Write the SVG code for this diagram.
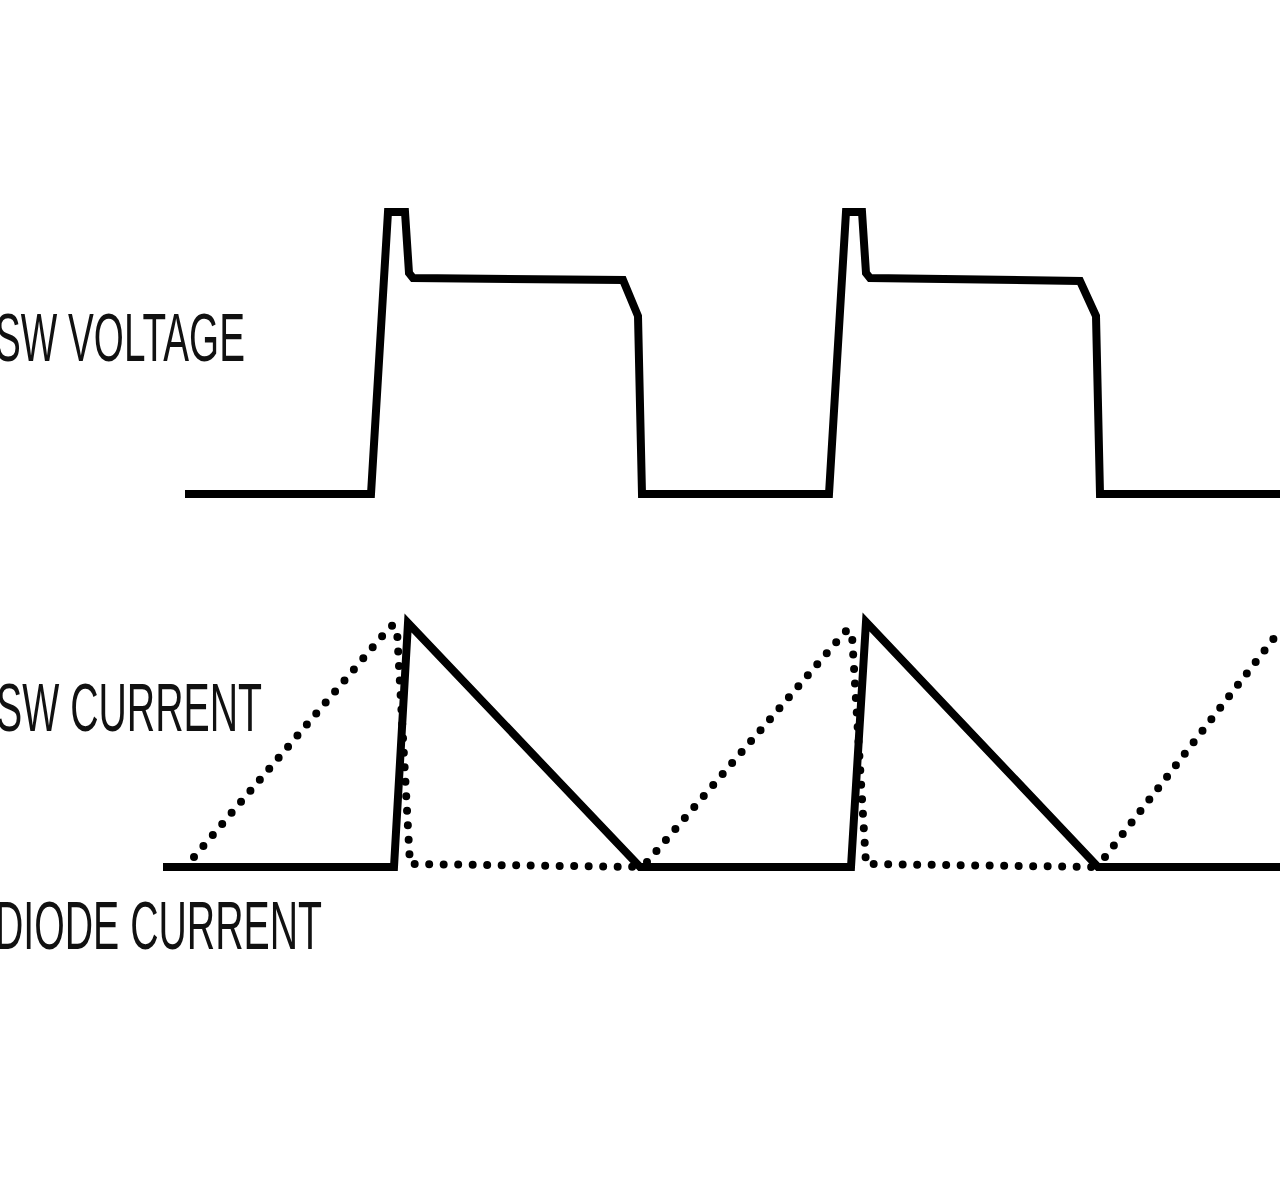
<svg xmlns="http://www.w3.org/2000/svg" width="1280" height="1190" viewBox="0 0 1280 1190">
<style>
.lbl{font-family:"Liberation Sans",Arial,sans-serif;font-size:68px;fill:#111}
.solid{fill:none;stroke:#000;stroke-width:8;stroke-linejoin:miter}
.dot{fill:none;stroke:#000;stroke-width:8;stroke-linecap:round;stroke-dasharray:0 14.5}
</style>
<rect width="1280" height="1190" fill="#fff"/>
<g id="labels">
<text class="lbl" x="-5" y="361" textLength="250" lengthAdjust="spacingAndGlyphs">SW VOLTAGE</text>
<text class="lbl" x="-4" y="731" textLength="266" lengthAdjust="spacingAndGlyphs">SW CURRENT</text>
<text class="lbl" x="-5" y="949" textLength="327" lengthAdjust="spacingAndGlyphs">DIODE CURRENT</text>
</g>
<g id="sw-voltage">
<path class="solid" d="M185,494 L371,494 L388,212 L405,212 L409,273 L413,278 L623,280 L638,316 L642,494 L829,494 L846,212 L862,212 L866,273 L870,278 L1080,281 L1096,316 L1100,494 L1280,494"/>
</g>
<g id="sw-current">
<path class="solid" d="M163,867 L394,867 L408,623 L640,867 L851,867 L866,622 L1098,867 L1280,867"/>
</g>
<g id="diode-current">
<path class="dot" d="M194,857 L390,627 Q395,623 397,630 L410,864 L645,867"/>
<path class="dot" d="M647,862 L845,632 Q850,627 852,635 L866,864 L1098,867"/>
<path class="dot" d="M1105,857 L1278,633"/>
</g>
</svg>
